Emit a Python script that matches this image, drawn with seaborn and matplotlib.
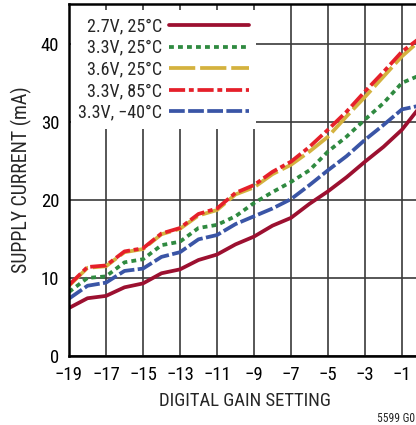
import matplotlib
matplotlib.use("Agg")
import matplotlib.pyplot as plt
import seaborn as sns
import pandas as pd
from matplotlib import font_manager

# ---- data ----
gain = list(range(-19, 1))
i_27v_25c = [6.15, 7.4, 7.7, 8.8, 9.3, 10.6, 11.1, 12.3, 13.0, 14.3, 15.3, 16.7, 17.7, 19.5, 21.1, 22.9, 24.9, 26.8, 29.0, 32.0]
i_33v_25c = [8.2, 10.0, 10.2, 12.0, 12.4, 14.2, 14.65, 16.4, 16.8, 17.9, 19.6, 21.0, 22.3, 23.8, 26.2, 28.1, 30.3, 32.4, 35.0, 36.0]
i_36v_25c = [9.0, 11.3, 11.5, 13.3, 13.7, 15.6, 16.3, 18.0, 18.7, 20.7, 21.6, 23.3, 24.5, 26.2, 28.1, 30.7, 33.2, 35.8, 38.4, 40.5]
i_33v_85c = [9.1, 11.4, 11.6, 13.4, 13.8, 15.7, 16.4, 18.2, 18.9, 20.9, 21.9, 23.6, 24.9, 26.8, 29.0, 31.3, 33.9, 36.4, 39.0, 40.8]
i_33v_m40c = [7.35, 9.0, 9.4, 10.9, 11.2, 12.7, 13.3, 14.95, 15.5, 16.9, 17.9, 18.9, 20.1, 21.9, 23.8, 25.6, 27.7, 29.6, 31.6, 32.1]

series_names = ["2.7V, 25°C", "3.3V, 25°C", "3.6V, 25°C", "3.3V, 85°C", "3.3V, −40°C"]
series_values = [i_27v_25c, i_33v_25c, i_36v_25c, i_33v_85c, i_33v_m40c]
x_ticks = list(range(-19, 0, 2))
y_ticks = [0, 10, 20, 30, 40]

colors = {
    "2.7V, 25°C": "#9c1030",
    "3.3V, 25°C": "#2f8a40",
    "3.6V, 25°C": "#d4b23e",
    "3.3V, 85°C": "#e5202a",
    "3.3V, −40°C": "#3a55a6",
}
dashes = {
    "2.7V, 25°C": "",
    "3.3V, 25°C": (1.3, 1.1),
    "3.6V, 25°C": (7.0, 1.3),
    "3.3V, 85°C": (4.3, 1.0, 1.3, 1.0),
    "3.3V, −40°C": (4.2, 0.9),
}

rows = []
for name, vals in zip(series_names, series_values):
    for g, v in zip(gain, vals):
        rows.append({"gain": g, "current": v, "series": name})
df = pd.DataFrame(rows)

sns.set_style("white")
installed = {f.name for f in font_manager.fontManager.ttflist}
prefs = ["Roboto Condensed", "Archivo Narrow", "PT Sans Narrow", "Liberation Sans Narrow",
         "Arimo", "Liberation Sans"]
fams = [f for f in prefs if f in installed] + ["DejaVu Sans"]
plt.rcParams["font.family"] = fams

W, H = 416, 425
fig = plt.figure(figsize=(W / 100, H / 100), dpi=100)
ax = fig.add_axes([69 / W, 69 / H, (420.5 - 69) / W, 352 / H])

sns.lineplot(data=df, x="gain", y="current", hue="series", style="series",
             hue_order=series_names, style_order=series_names,
             palette=colors, dashes=dashes, linewidth=2.7, legend=False, ax=ax)

ax.set_xlim(-19, 0)
ax.set_ylim(0, 45.1)
ax.set_xticks(x_ticks)
ax.set_yticks(y_ticks)
ax.grid(True, color="#3a3a3a", linewidth=1.2)
ax.set_axisbelow(True)
for s in ["left", "bottom", "top"]:
    ax.spines[s].set_color("black")
    ax.spines[s].set_linewidth(1.8)
ax.spines["right"].set_visible(False)
ax.tick_params(length=0, labelsize=13.5, colors="black", pad=7)
ax.set_xlabel("DIGITAL GAIN SETTING", fontsize=13.5, labelpad=6)
ax.set_ylabel("SUPPLY CURRENT (mA)", fontsize=14.3, labelpad=6)

leg = ax.legend(handles=ax.lines[:5], labels=series_names, markerfirst=False,
                loc="upper right", bbox_to_anchor=(256 / W, 1 - 10 / H),
                bbox_transform=fig.transFigure, fontsize=13,
                handlelength=4.4, handletextpad=0.38, labelspacing=0.2,
                borderpad=0.4, borderaxespad=0, frameon=True, fancybox=False)
leg.get_frame().set_facecolor("white")
leg.get_frame().set_edgecolor("none")
leg.get_frame().set_alpha(1)

fig.text(377 / W, 1 - 418 / H, "5599 G0", fontsize=8.3, va="center", ha="left")

fig.savefig("out.png", dpi=100)
